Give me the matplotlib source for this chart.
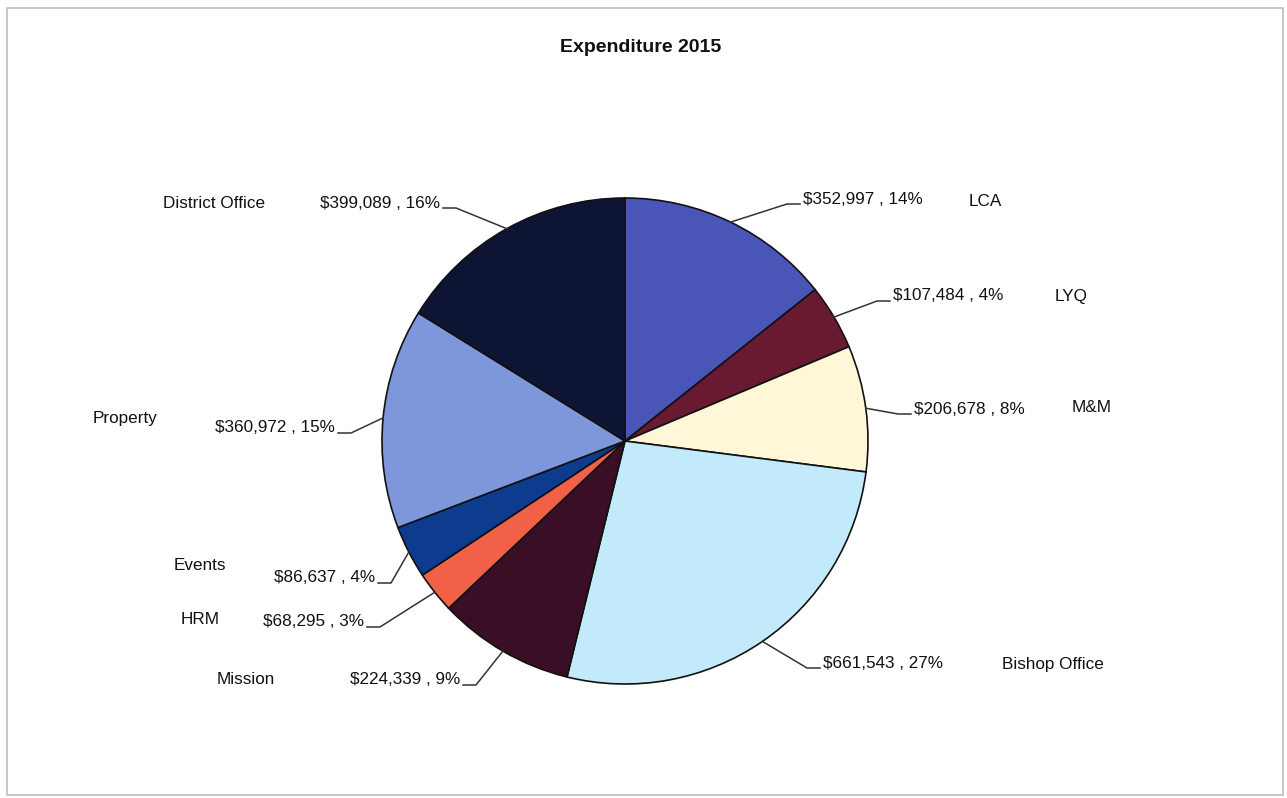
import matplotlib
matplotlib.use('Agg')
import matplotlib.pyplot as plt
import numpy as np
from matplotlib.patches import Rectangle

plt.rcParams['font.family'] = ['Liberation Sans', 'DejaVu Sans']

# Data (clockwise from 12 o'clock)
categories = ['LCA', 'LYQ', 'M&M', 'Bishop Office', 'Mission', 'HRM',
              'Events', 'Property', 'District Office']
amounts = [352997, 107484, 206678, 661543, 224339, 68295, 86637, 360972, 399089]
percents = [14, 4, 8, 27, 9, 3, 4, 15, 16]
colors = ['#4A55B8', '#6A1A30', '#FFF7D8', '#C2EAFA', '#3A0F25',
          '#F26048', '#0D3B8E', '#7E96DA', '#0E1433']

W, H = 1287, 798
fig = plt.figure(figsize=(W / 100, H / 100), dpi=100)
ax = fig.add_axes([0, 0, 1, 1])

# outer frame
ax.add_patch(Rectangle((7, 3), W - 11, H - 11, fill=False,
                       edgecolor='#bdbdbd', linewidth=1.2))

cx, cy, r = 625, H - 441, 243
wedges, _ = ax.pie(amounts, colors=colors, startangle=90, counterclock=False,
                   center=(cx, cy), radius=r, frame=True,
                   wedgeprops=dict(edgecolor='#111111', linewidth=1.2))
ax.set_xlim(0, W)
ax.set_ylim(0, H)
ax.set_aspect('equal')
ax.axis('off')

# label layout: (value text anchor x, y, ha, category x, category y)
layout = {
    'LCA': (803, 199, 'left', 969, 201),
    'LYQ': (893, 296, 'left', 1055, 297),
    'M&M': (914, 409, 'left', 1072, 408),
    'Bishop Office': (823, 663, 'left', 1002, 664),
    'Mission': (460, 680, 'right', 217, 679),
    'HRM': (364, 622, 'right', 181, 620),
    'Events': (375, 578, 'right', 174, 565),
    'Property': (335, 428, 'right', 93, 419),
    'District Office': (440, 203, 'right', 163, 203),
}

for w, cat, amt, pct in zip(wedges, categories, amounts, percents):
    tx, ty, ha, lx, ly = layout[cat]
    ty_d = H - ty
    ax.text(tx, ty_d, f'${amt:,} , {pct}%', ha=ha, va='center',
            fontsize=12.3, color='#111111')
    ax.text(lx, H - ly, cat, ha='left', va='center', fontsize=12.3, color='#111111')
    # leader touches the pie at the wedge's mid angle
    a = np.deg2rad((w.theta1 + w.theta2) / 2)
    px, py = cx + r * np.cos(a), cy + r * np.sin(a)
    if ha == 'left':
        x0, x1 = tx - 3, tx - 16
    else:
        x0, x1 = tx + 3, tx + 16
    yb = ty_d - 5
    ax.plot([x0, x1, px], [yb, yb, py], color='#333333', linewidth=1.1)

ax.text(641, H - 47, 'Expenditure 2015', ha='center', va='center',
        fontsize=14, fontweight='bold', color='#111111')

fig.savefig('out.png', dpi=100, facecolor='white')
